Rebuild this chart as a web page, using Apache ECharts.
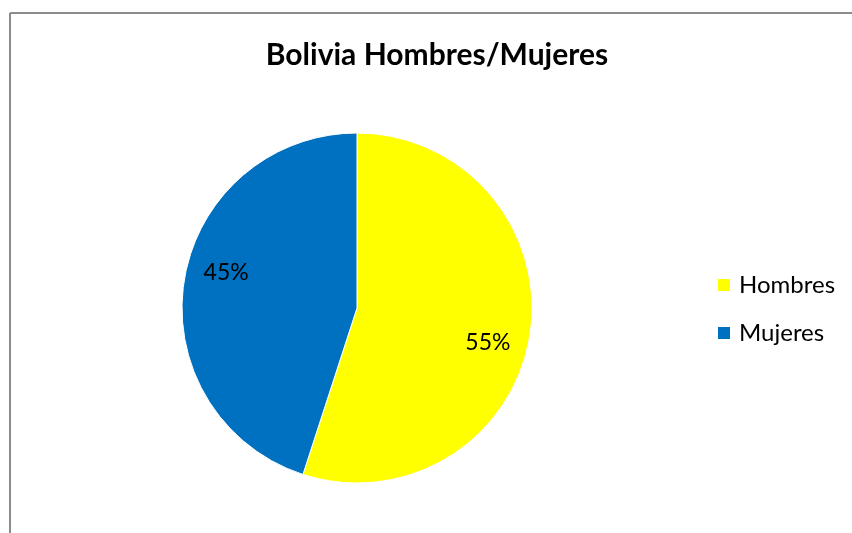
<!DOCTYPE html>
<html>
<head>
<meta charset="utf-8">
<script src="https://cdn.jsdelivr.net/npm/echarts@6/dist/echarts.min.js"></script>
<style>
  html, body { margin: 0; padding: 0; background: #fff; }
  #main { width: 852px; height: 533px; }
</style>
</head>
<body>
<div id="main"></div>
<script>
var names = ['Hombres', 'Mujeres'];
var values = [55, 45];
var colors = ['#FFFF00', '#0070C0'];

var myChart = echarts.init(document.getElementById('main'));
var font = 'Lato, "Open Sans", sans-serif';

var option = {
    animation: false,
    title: {
        text: 'Bolivia Hombres/Mujeres',
        left: 432,
        top: 35,
        textAlign: 'center',
        textStyle: { fontFamily: font, fontWeight: 'bold', fontSize: 30, color: '#000' }
    },
    legend: {
        orient: 'vertical',
        left: 711,
        top: 268,
        itemWidth: 14,
        itemHeight: 14,
        itemGap: 24,
        icon: 'rect',
        data: names,
        textStyle: { fontFamily: font, fontSize: 24, color: '#000', padding: [0, 0, 0, 3] }
    },
    graphic: [
        { type: 'line', shape: { x1: 10, y1: 13, x2: 852, y2: 13 }, style: { stroke: '#8c8c8c', lineWidth: 2 } },
        { type: 'line', shape: { x1: 10, y1: 13, x2: 10, y2: 533 }, style: { stroke: '#8c8c8c', lineWidth: 2 } }
    ],
    series: [
        {
            type: 'pie',
            center: [357, 308],
            radius: [0, 175],
            startAngle: 90,
            clockwise: true,
            label: { show: false },
            labelLine: { show: false },
            itemStyle: { borderColor: '#fff', borderWidth: 1 },
            emphasis: { disabled: true },
            data: names.map(function (n, i) {
                return { name: n, value: values[i], itemStyle: { color: colors[i] } };
            })
        },
        {
            // transparent copy, slightly turned, only to carry the percent labels
            type: 'pie',
            center: [357, 308],
            radius: [90, 175],
            startAngle: 84,
            clockwise: true,
            silent: true,
            label: {
                show: true,
                position: 'inside',
                formatter: '{d}%',
                fontFamily: font,
                fontSize: 23,
                color: '#000'
            },
            labelLine: { show: false },
            data: names.map(function (n, i) {
                return { name: n, value: values[i], itemStyle: { color: 'transparent' } };
            })
        }
    ]
};
myChart.setOption(option);
</script>
</body>
</html>
